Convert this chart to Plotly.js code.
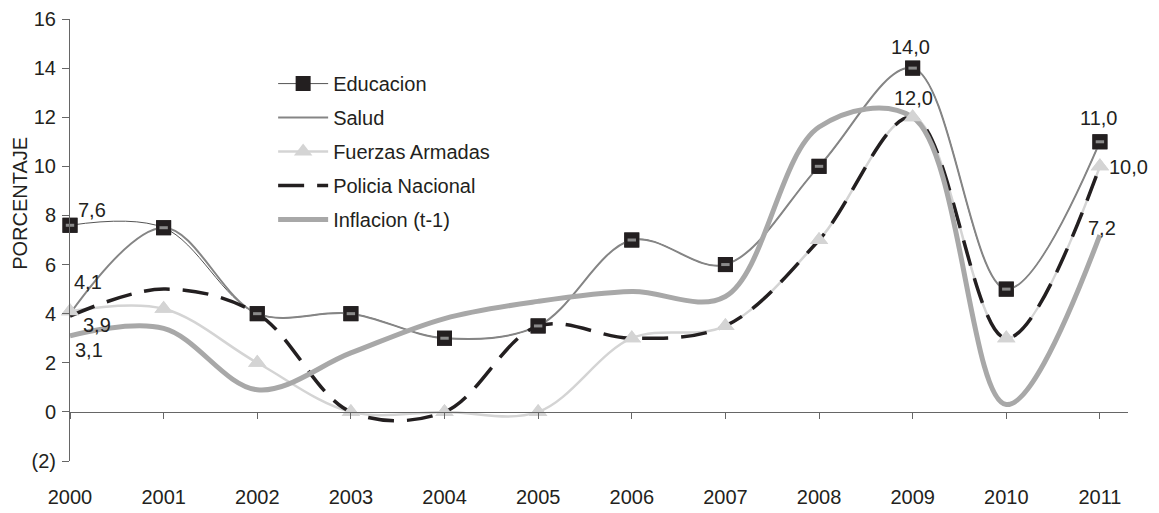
<!DOCTYPE html>
<html><head><meta charset="utf-8">
<script src="https://cdn.plot.ly/plotly-3.0.1.min.js"></script>
<style>body{margin:0;background:#fff}#chart{width:1159px;height:513px}</style>
</head><body><div id="chart"></div>
<script>
const years = [2000,2001,2002,2003,2004,2005,2006,2007,2008,2009,2010,2011];
const educacion = [7.6,7.5,4.0,4.0,3.0,3.5,7.0,6.0,10.0,14.0,5.0,11.0];
const salud = [4.0,7.5,4.0,4.0,3.0,3.5,7.0,6.0,10.0,14.0,5.0,11.0];
const fuerzas = [4.1,4.2,2.0,0.0,0.0,0.0,3.0,3.5,7.0,12.0,3.0,10.0];
const policia = [3.9,5.0,4.0,0.0,0.0,3.5,3.0,3.5,7.0,12.0,3.0,10.0];
const inflacion = [3.1,3.4,0.9,2.4,3.8,4.5,4.9,4.7,11.6,12.0,0.3,7.2];
const yTickVals = [-2,0,2,4,6,8,10,12,14,16];
const yTickText = ['(2)','0','2','4','6','8','10','12','14','16'];
const yTitle = 'PORCENTAJE';

const ink = '#231f20';
const font = 'Liberation Sans, Arial, sans-serif';
const FS = 20;
const sp = {shape:'spline', smoothing:1};

const traces = [
  {x:years, y:educacion, name:'Educacion', mode:'lines+markers', legendgroup:'a', legendrank:1, cliponaxis:false,
   line:Object.assign({color:'#555555', width:1}, sp),
   marker:{symbol:'square', size:15, color:ink, line:{color:ink, width:0}}},
  {x:years, y:salud, name:'Salud', mode:'lines', legendgroup:'b', legendrank:2, cliponaxis:false,
   line:Object.assign({color:'#858585', width:2}, sp)},
  {x:years, y:fuerzas, name:'Fuerzas Armadas', mode:'lines+markers', legendgroup:'c', legendrank:3, cliponaxis:false,
   line:Object.assign({color:'#d4d4d4', width:2.5}, sp),
   marker:{symbol:'triangle-up', size:16, color:'#d4d4d4'}},
  {x:years, y:policia, name:'Policia Nacional', mode:'lines', legendgroup:'d', legendrank:4, cliponaxis:false,
   line:Object.assign({color:ink, width:3.5, dash:'26px,13px'}, sp)},
  {x:years, y:inflacion, name:'Inflacion (t-1)', mode:'lines', legendgroup:'e', legendrank:5, cliponaxis:false,
   line:Object.assign({color:'#a8a8a8', width:5}, sp)},
  {x:years, y:fuerzas, mode:'markers', showlegend:false, hoverinfo:'skip', cliponaxis:false,
   marker:{symbol:'triangle-up', size:16, color:'#d4d4d4'}},
  {x:years, y:educacion, mode:'markers', showlegend:false, hoverinfo:'skip', cliponaxis:false,
   marker:{symbol:'square', size:15, color:ink}},
  {x:years, y:educacion, mode:'markers', showlegend:false, hoverinfo:'skip', cliponaxis:false,
   marker:{symbol:'line-ew', size:6, color:'#8a8a8a', line:{color:'#8a8a8a', width:3}}}
];

function fmt(v){ return v.toFixed(1).replace('.', ','); }
function lab(series, i, dx, dy){
  return {x:years[i], y:series[i], xref:'x', yref:'y', text:fmt(series[i]), showarrow:false,
          xshift:dx, yshift:dy, font:{family:font, size:FS, color:ink}};
}
const annotations = [
  lab(educacion,0,22,15),
  lab(fuerzas,0,18,29),
  lab(policia,0,27,-9),
  lab(inflacion,0,19,-14),
  lab(educacion,9,-2,21),
  lab(fuerzas,9,1,19),
  lab(educacion,11,-1,24),
  lab(fuerzas,11,29,-1),
  lab(inflacion,11,2,7),
  {xref:'paper', yref:'paper', x:-0.0473, y:0.584, xanchor:'center', yanchor:'middle', textangle:-90,
   text:yTitle, showarrow:false, font:{family:font, size:FS, color:ink}}
];

const layout = {
  width:1159, height:513,
  margin:{l:70, r:31, t:19, b:52},
  paper_bgcolor:'#ffffff', plot_bgcolor:'#ffffff',
  font:{family:font, size:FS, color:ink},
  showlegend:true,
  legend:{x:0.192, y:0.898, xanchor:'left', yanchor:'top', bgcolor:'rgba(0,0,0,0)',
          font:{family:font, size:FS, color:ink}, tracegroupgap:5, traceorder:'grouped', itemwidth:50},
  xaxis:{range:[2000, 2011.3], tickvals:years, ticktext:years.map(String), showgrid:false, zeroline:false,
         showline:false, ticks:'', tickfont:{size:FS, color:ink}, ticklabelstandoff:22, fixedrange:true},
  xaxis2:{overlaying:'x', anchor:'free', position:2/18, range:[2000, 2011.3], tickvals:years,
          showticklabels:false, showgrid:false, zeroline:false, showline:true, linecolor:'#666666', linewidth:1,
          ticks:'outside', ticklen:6, tickcolor:'#666666'},
  yaxis:{range:[-2,16], tickvals:yTickVals, ticktext:yTickText, showgrid:false, zeroline:false,
         showline:true, linecolor:'#666666', linewidth:1, ticks:'outside', ticklen:7, tickcolor:'#666666',
         tickfont:{size:FS, color:ink}, ticklabelstandoff:2},
  annotations:annotations
};
traces.push({x:[2000], y:[null], xaxis:'x2', yaxis:'y', mode:'markers', showlegend:false, hoverinfo:'skip'});
Plotly.newPlot('chart', traces, layout, {displayModeBar:false, staticPlot:true});
</script></body></html>
